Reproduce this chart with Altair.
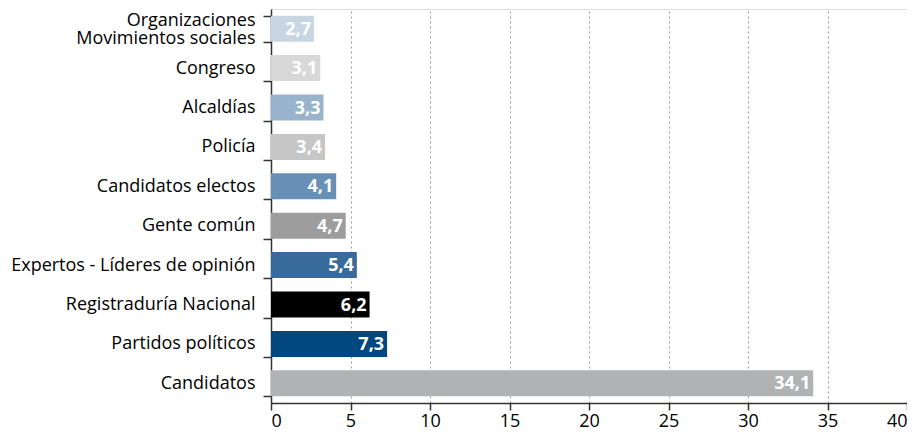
import altair as alt
import pandas as pd

categories = [
    "Organizaciones|Movimientos sociales",
    "Congreso",
    "Alcaldías",
    "Policía",
    "Candidatos electos",
    "Gente común",
    "Expertos - Líderes de opinión",
    "Registraduría Nacional",
    "Partidos políticos",
    "Candidatos",
]
values = [2.7, 3.1, 3.3, 3.4, 4.1, 4.7, 5.4, 6.2, 7.3, 34.1]
colors = ["#c8d6e4", "#d8d8d9", "#98b4cc", "#c6c6c7", "#6890b6",
          "#9d9d9e", "#386a9b", "#000000", "#00467f", "#b1b2b4"]
x_ticks = [0, 5, 10, 15, 20, 25, 30, 35, 40]

df = pd.DataFrame({
    "cat": categories,
    "val": values,
    "color": colors,
    "label": [f"{v:.1f}".replace(".", ",") for v in values],
})

FONT = "Open Sans"

y_enc = alt.Y(
    "cat:N",
    sort=categories,
    title=None,
    scale=alt.Scale(paddingInner=0.34, paddingOuter=0.17),
    axis=alt.Axis(
        labelExpr="split(datum.label, '|')",
        labelFontSize=18,
        labelFont=FONT,
        labelColor="#000000",
        labelPadding=8,
        labelLineHeight=18,
        labelLimit=0,
        labelOffset={
            "condition": {"test": f"datum.value === '{categories[0]}'", "value": -8},
            "value": 0,
        },
        tickBand="extent",
        tickSize=8,
        tickColor="#333333",
        tickWidth=1.5,
        domainColor="#333333",
        domainWidth=1.5,
        grid=False,
    ),
)

x_enc = alt.X(
    "val:Q",
    title=None,
    scale=alt.Scale(domain=[0, 40], nice=False),
    axis=alt.Axis(
        values=x_ticks,
        labelFontSize=18,
        labelFont=FONT,
        labelColor="#000000",
        labelPadding=2,
        tickSize=7,
        tickColor="#333333",
        tickWidth=1.5,
        domainColor="#333333",
        domainWidth=1.5,
        grid=True,
        gridColor="#9a9a9a",
        gridDash=[2, 3],
        gridWidth=1,
    ),
)

bars = alt.Chart(df).mark_bar().encode(
    x=x_enc,
    y=y_enc,
    color=alt.Color("color:N", scale=None, legend=None),
)

text = alt.Chart(df).mark_text(
    align="right", baseline="middle", dx=-3, dy=1,
    font=FONT, fontSize=18, fontWeight="bold", color="white",
).encode(
    x=alt.X("val:Q", scale=alt.Scale(domain=[0, 40], nice=False)),
    y=alt.Y("cat:N", sort=categories),
    text="label:N",
)

chart = (bars + text).properties(
    width=636,
    height=394,
    autosize=alt.AutoSizeParams(type="none"),
    padding={"left": 263, "top": 1, "right": 0, "bottom": 29},
).configure_view(stroke=None).configure(background="white")

chart.save("out.html", embed_options={"renderer": "svg", "actions": False})
